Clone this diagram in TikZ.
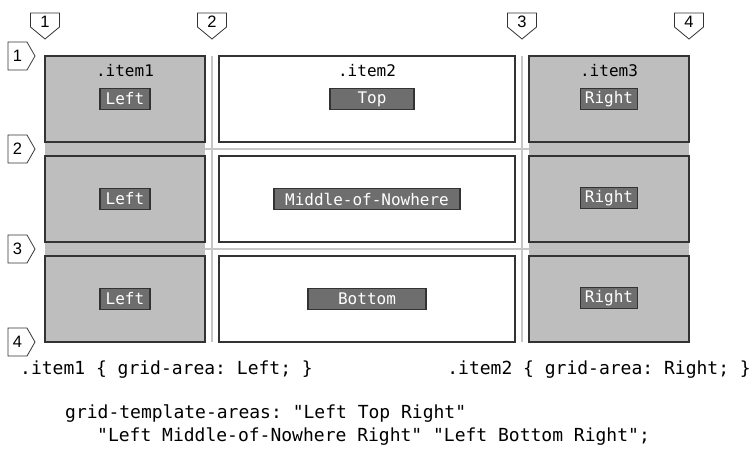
\documentclass[tikz,border=0pt]{standalone}
\usepackage{fontspec}
\setmainfont{Liberation Sans}
\setmonofont{DejaVu Sans Mono}
\definecolor{cellgray}{HTML}{BEBEBE}
\definecolor{taggray}{HTML}{6E6E6E}
\definecolor{edge}{HTML}{333333}
\definecolor{gridline}{HTML}{C6C6C6}
\begin{document}
\begin{tikzpicture}[x=1pt,y=-1pt,
  itembox/.style={draw=edge,line width=1.4pt},
  grayitem/.style={itembox,fill=cellgray},
  whiteitem/.style={itembox,fill=white},
  tag/.style={draw=edge,fill=taggray,line width=1.2pt,text=white,inner sep=0pt,
    minimum height=21pt,font=\ttfamily\fontsize{16}{17}\selectfont},
  itemlabel/.style={inner sep=0pt,font=\ttfamily\fontsize{16}{17}\selectfont},
  code/.style={inner sep=0pt,anchor=west,font=\ttfamily\fontsize{18}{20}\selectfont},
  marker/.style={draw=edge,fill=white,line width=0.8pt},
  markernum/.style={inner sep=0pt,font=\fontsize{16.5}{17}\selectfont},
  gline/.style={draw=gridline,line width=2.4pt}
]
\useasboundingbox (0,0) rectangle (755,448);
\fill[white] (0,0) rectangle (755,448);

% grid lines
\draw[gline] (212,56) -- (212,342);
\draw[gline] (522,56) -- (522,342);
\draw[gline] (45,149) -- (689,149);
\draw[gline] (45,249) -- (689,249);

% spanning gray columns
\fill[cellgray] (45,56) rectangle (205,342);
\fill[cellgray] (529,56) rectangle (689,342);
\draw[draw=gridline,line width=1pt,opacity=0.6] (45,249) -- (205,249);
\draw[draw=gridline,line width=1pt,opacity=0.6] (529,249) -- (689,249);

% item boxes
\node[grayitem,minimum width=160pt,minimum height=86pt,inner sep=0pt] (l1) at (125,99) {};
\node[grayitem,minimum width=160pt,minimum height=86pt,inner sep=0pt] (l2) at (125,199) {};
\node[grayitem,minimum width=160pt,minimum height=86pt,inner sep=0pt] (l3) at (125,299) {};
\node[whiteitem,minimum width=296pt,minimum height=86pt,inner sep=0pt] (m1) at (367,99) {};
\node[whiteitem,minimum width=296pt,minimum height=86pt,inner sep=0pt] (m2) at (367,199) {};
\node[whiteitem,minimum width=296pt,minimum height=86pt,inner sep=0pt] (m3) at (367,299) {};
\node[grayitem,minimum width=160pt,minimum height=86pt,inner sep=0pt] (r1) at (609,99) {};
\node[grayitem,minimum width=160pt,minimum height=86pt,inner sep=0pt] (r2) at (609,199) {};
\node[grayitem,minimum width=160pt,minimum height=86pt,inner sep=0pt] (r3) at (609,299) {};

% item labels
\node[itemlabel] (lab1) at (125,71) {.item1};
\node[itemlabel] (lab2) at (367,71) {.item2};
\node[itemlabel] (lab3) at (609,71) {.item3};

% tags
\node[tag,minimum width=50pt] (t11) at (125,99) {Left};
\node[tag,minimum width=84pt] (t12) at (372,99) {Top};
\node[tag,minimum width=57pt] (t13) at (609,99) {Right};
\node[tag,minimum width=50pt] (t21) at (125,199) {Left};
\node[tag,minimum width=186pt] (t22) at (367,199) {Middle-of-Nowhere};
\node[tag,minimum width=57pt] (t23) at (609,198) {Right};
\node[tag,minimum width=50pt] (t31) at (125,299) {Left};
\node[tag,minimum width=118pt] (t32) at (367,299) {Bottom};
\node[tag,minimum width=57pt] (t33) at (609,298) {Right};

% column markers
\foreach \cx/\n in {45/1,212/2,522/3,689/4}{
  \draw[marker] (\cx-14.5,13) -- (\cx+14.5,13) -- (\cx+14.5,27) -- (\cx,39) -- (\cx-14.5,27) -- cycle;
  \node[markernum] (c\n) at (\cx,22) {\n};
}
% row markers
\foreach \cy/\n in {56/1,149/2,249/3,342/4}{
  \draw[marker] (8,\cy-14) -- (27,\cy-14) -- (35,\cy) -- (27,\cy+14) -- (8,\cy+14) -- cycle;
  \node[markernum] (rw\n) at (17.5,\cy) {\n};
}

% code text
\node[code] (code1) at (20,370) {.item1 \{ grid-area: Left; \}};
\node[code,anchor=east] (code2) at (751,370) {.item2 \{ grid-area: Right; \}};
\node[code] (code3) at (65,414) {grid-template-areas: "Left Top Right"};
\node[code] (code4) at (97,437) {"Left Middle-of-Nowhere Right" "Left Bottom Right";};
\end{tikzpicture}
\end{document}
